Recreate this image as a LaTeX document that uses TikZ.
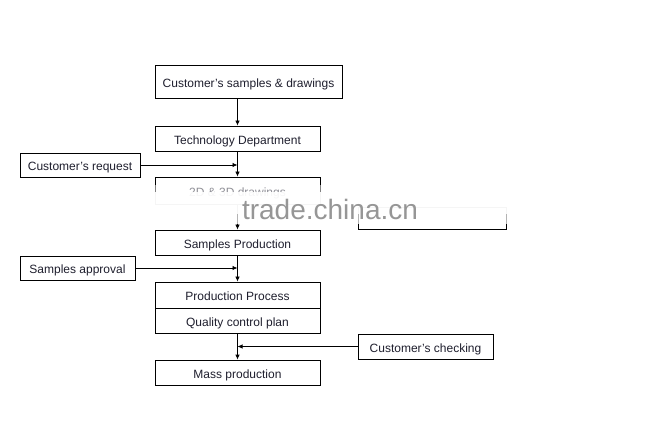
\documentclass[tikz,border=0pt]{standalone}
\usepackage{fontspec}
\setmainfont{Liberation Sans}
\usetikzlibrary{arrows.meta}
\definecolor{txt}{RGB}{30,30,45}
\definecolor{wm}{RGB}{150,150,150}
\begin{document}
\begin{tikzpicture}[x=1pt,y=-1pt,
  box/.style={draw=black,line width=0.8pt,rectangle,inner sep=0pt,text=txt,
    text height=11.5pt,text depth=0pt,font=\fontsize{12}{14}\selectfont},
  arr/.style={draw=black,line width=0.8pt,-{Latex[length=5pt,width=4.5pt]}}]
\useasboundingbox (0,0) rectangle (658,435);
% main column
\node[box,minimum width=187pt,minimum height=33pt] (a) at (248.5,81.5) {Customer's samples \& drawings};
\node[box,minimum width=165pt,minimum height=25pt] (b) at (237.5,138.5) {Technology Department};
\node[box,minimum width=165pt,minimum height=27pt] (c) at (237.5,190.5) {2D \& 3D drawings};
\node[box,minimum width=165pt,minimum height=25pt] (d) at (237.5,242.5) {Samples Production};
\node[box,minimum width=165pt,minimum height=26pt] (pp) at (237.5,295) {Production Process};
\node[box,minimum width=165pt,minimum height=25pt] (qc) at (237.5,320.5) {Quality control plan};
\node[box,minimum width=165pt,minimum height=25pt] (m) at (237.5,372.5) {Mass production};
% side boxes
\node[box,minimum width=120pt,minimum height=24pt] (req) at (80,165) {Customer's request};
\node[box,minimum width=115pt,minimum height=24pt] (appr) at (77.5,268) {Samples approval};
\node[box,minimum width=135pt,minimum height=25pt] (chk) at (425.5,346.5) {Customer's checking};
\node[box,minimum width=148pt,minimum height=22pt] (hid) at (432,218) {};
% connectors
\draw[arr] (b |- a.south) -- (b.north);
\draw[arr] (b) -- (c);
\draw[arr] (req.east) -- (req.east -| b);
\draw[arr] (c) -- (d);
\draw[arr] (d) -- (pp);
\draw[arr] (appr.east) -- (appr.east -| d);
\draw[arr] (qc) -- (m);
\draw[arr] (chk.west) -- (chk.west -| qc);
% watermark
\fill[white,opacity=0.5] (145,185) rectangle (515,192);
\fill[white,opacity=0.96] (145,192) rectangle (515,214);
\fill[white,opacity=0.7] (145,214) rectangle (515,224);
\node[text=wm,font=\fontsize{28}{30}\selectfont,inner sep=0pt] (wmk) at (330,209) {trade.china.cn};
\end{tikzpicture}
\end{document}
